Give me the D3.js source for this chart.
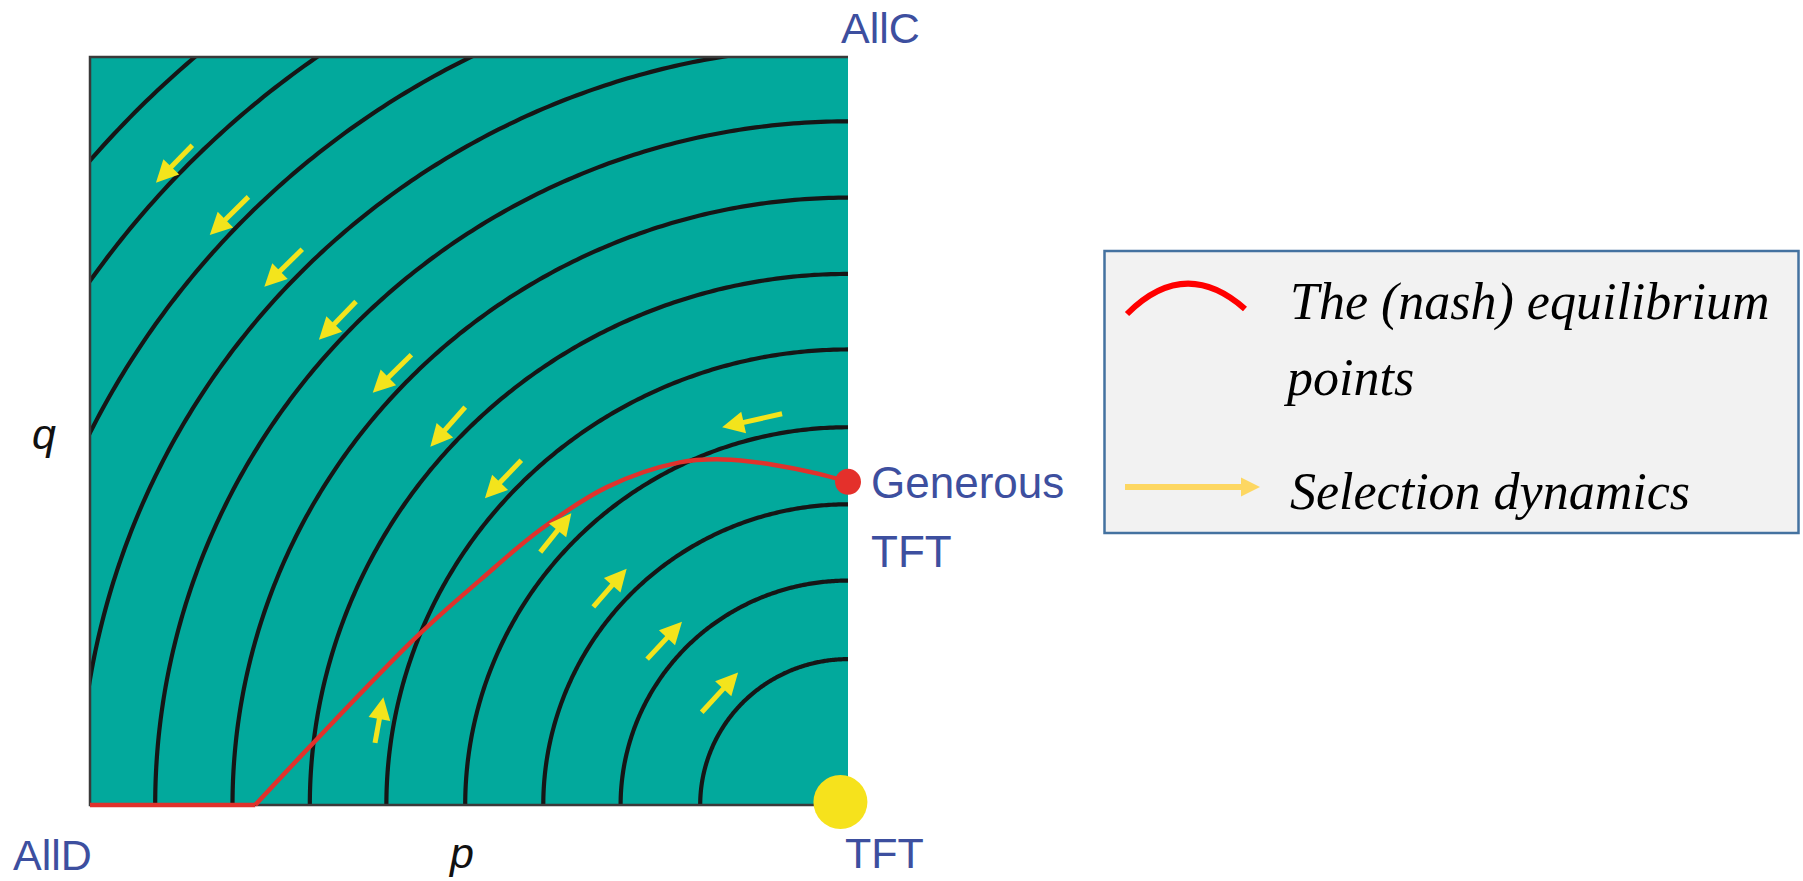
<!DOCTYPE html>
<html>
<head>
<meta charset="utf-8">
<script src="https://cdn.jsdelivr.net/npm/d3@7"></script>
<style>
  html, body { margin: 0; padding: 0; background: #ffffff; }
  svg { display: block; }
</style>
</head>
<body>
<svg id="chart" width="1803" height="881"></svg>
<script>
// ---------------- DATA ----------------
// Radii (in p/q units, centred on TFT at p=1,q=0) of the fitness contour lines
const contourRadii = [0.195, 0.300, 0.402, 0.505, 0.609, 0.710, 0.812, 0.914, 1.014, 1.117, 1.221, 1.320];

// Nash-equilibrium curve (p, q)
const nashP = [0.000, 0.218, 0.290, 0.431, 0.515, 0.594, 0.682, 0.778, 0.835, 0.901, 0.960, 1.000];
const nashQ = [0.000, 0.000, 0.078, 0.225, 0.301, 0.368, 0.425, 0.458, 0.462, 0.455, 0.443, 0.432];

// Selection-dynamics arrows: tail (p,q) -> head (p,q)
const arrowTailP = [0.135, 0.209, 0.280, 0.351, 0.424, 0.495, 0.569, 0.913, 0.594, 0.664, 0.735, 0.807, 0.376];
const arrowTailQ = [0.882, 0.813, 0.743, 0.673, 0.602, 0.532, 0.461, 0.523, 0.338, 0.265, 0.195, 0.124, 0.083];
const arrowHeadP = [0.087, 0.158, 0.230, 0.302, 0.373, 0.449, 0.521, 0.834, 0.635, 0.708, 0.781, 0.855, 0.387];
const arrowHeadQ = [0.832, 0.762, 0.693, 0.622, 0.551, 0.479, 0.410, 0.505, 0.390, 0.316, 0.245, 0.177, 0.144];

// Special strategies
const genTFT = { p: 1.0, q: 0.432 };   // Generous TFT
const tftPoint = { p: 0.99, q: 0.004 }; // TFT

const cornerLabels = { allC: "AllC", allD: "AllD", tft: "TFT", gen1: "Generous", gen2: "TFT" };
const axisLabels = { x: "p", y: "q" };
const legendItems = ["The (nash) equilibrium", "points", "Selection dynamics"];

// ---------------- LAYOUT ----------------
const svg = d3.select("#chart");
const L = 90, R = 848, T = 57, B = 805;
const x = d3.scaleLinear().domain([0, 1]).range([L, R]);
const y = d3.scaleLinear().domain([0, 1]).range([B, T]);

const teal = "#02a99c";
const labelBlue = "#3d4f9f";
const arrowYellow = "#f3e41c";

svg.append("defs").append("clipPath").attr("id", "sq")
  .append("rect").attr("x", x(0)).attr("y", y(1))
  .attr("width", x(1) - x(0)).attr("height", y(0) - y(1));

// background square
svg.append("rect")
  .attr("x", x(0)).attr("y", y(1))
  .attr("width", x(1) - x(0)).attr("height", y(0) - y(1))
  .attr("fill", teal);

// contour lines
const line = d3.line().x(d => x(d[0])).y(d => y(d[1]));
const gC = svg.append("g").attr("clip-path", "url(#sq)");
contourRadii.forEach(r => {
  const pts = d3.range(0, 201).map(i => {
    const th = (Math.PI / 2) * i / 200;
    return [1 - r * Math.cos(th), r * Math.sin(th)];
  });
  gC.append("path").attr("d", line(pts))
    .attr("fill", "none").attr("stroke", "#161616").attr("stroke-width", 4.2);
});

// frame (top, left, bottom)
const frame = svg.append("g").attr("stroke", "#3a3a3a").attr("stroke-width", 2.5).attr("fill", "none");
frame.append("path").attr("d", line([[1, 1], [0, 1], [0, 0], [1, 0]]));

// Nash curve
const nashPts = nashP.map((p, i) => [p, nashQ[i]]);
svg.append("path").attr("d", line(nashPts.slice(0, 2)))
  .attr("fill", "none").attr("stroke", "#e0322c").attr("stroke-width", 4.5);
const curveLine = d3.line().x(d => x(d[0])).y(d => y(d[1])).curve(d3.curveCatmullRom.alpha(0.5));
svg.append("path").attr("d", curveLine(nashPts.slice(1)))
  .attr("fill", "none").attr("stroke", "#e0322c").attr("stroke-width", 4.5);

// arrows
function drawArrow(g, x1, y1, x2, y2, color, width, headLen, headW) {
  const dx = x2 - x1, dy = y2 - y1;
  const len = Math.hypot(dx, dy);
  const ux = dx / len, uy = dy / len;
  const bx = x2 - ux * headLen, by = y2 - uy * headLen;
  g.append("line").attr("x1", x1).attr("y1", y1).attr("x2", bx + ux * 2).attr("y2", by + uy * 2)
    .attr("stroke", color).attr("stroke-width", width);
  const nx = -uy, ny = ux;
  g.append("path")
    .attr("d", `M${x2},${y2}L${bx + nx * headW / 2},${by + ny * headW / 2}L${bx - nx * headW / 2},${by - ny * headW / 2}Z`)
    .attr("fill", color);
}
const gA = svg.append("g");
arrowTailP.forEach((p, i) => {
  drawArrow(gA, x(p), y(arrowTailQ[i]), x(arrowHeadP[i]), y(arrowHeadQ[i]), arrowYellow, 5, 22, 22);
});

// special points
svg.append("circle").attr("cx", x(genTFT.p)).attr("cy", y(genTFT.q)).attr("r", 13).attr("fill", "#e4302b");
svg.append("circle").attr("cx", x(tftPoint.p)).attr("cy", y(tftPoint.q)).attr("r", 27).attr("fill", "#f6e21c");

// labels
const lab = svg.append("g").attr("font-family", "'Liberation Sans', Arial, sans-serif").attr("fill", labelBlue);
lab.append("text").attr("x", 841).attr("y", 43).attr("font-size", 43).text(cornerLabels.allC);
lab.append("text").attr("x", 13).attr("y", 870).attr("font-size", 43).text(cornerLabels.allD);
lab.append("text").attr("x", 845).attr("y", 868).attr("font-size", 43).text(cornerLabels.tft);
lab.append("text").attr("x", 871).attr("y", 498).attr("font-size", 44).text(cornerLabels.gen1);
lab.append("text").attr("x", 871).attr("y", 567).attr("font-size", 44).text(cornerLabels.gen2);

const ax = svg.append("g").attr("font-family", "'Liberation Sans', Arial, sans-serif")
  .attr("font-style", "italic").attr("fill", "#111").attr("font-size", 43);
ax.append("text").attr("x", 450).attr("y", 868).text(axisLabels.x);
ax.append("text").attr("x", 32).attr("y", 449).text(axisLabels.y);

// legend
const lg = svg.append("g");
lg.append("rect").attr("x", 1104.5).attr("y", 251).attr("width", 694).attr("height", 282)
  .attr("fill", "#f2f2f2").attr("stroke", "#4472a0").attr("stroke-width", 2.5);
lg.append("path").attr("d", "M1127,314 Q1185,256 1245,309")
  .attr("fill", "none").attr("stroke", "#ff0000").attr("stroke-width", 6);
drawArrow(lg, 1125, 487, 1260, 487, "#fdd762", 6, 19, 19);
const lt = lg.append("g").attr("font-family", "'Liberation Serif', 'Times New Roman', serif")
  .attr("font-style", "italic").attr("font-size", 52).attr("fill", "#000");
lt.append("text").attr("x", 1290).attr("y", 319).text(legendItems[0]);
lt.append("text").attr("x", 1287).attr("y", 395).text(legendItems[1]);
lt.append("text").attr("x", 1290).attr("y", 509).text(legendItems[2]);
</script>
</body>
</html>
